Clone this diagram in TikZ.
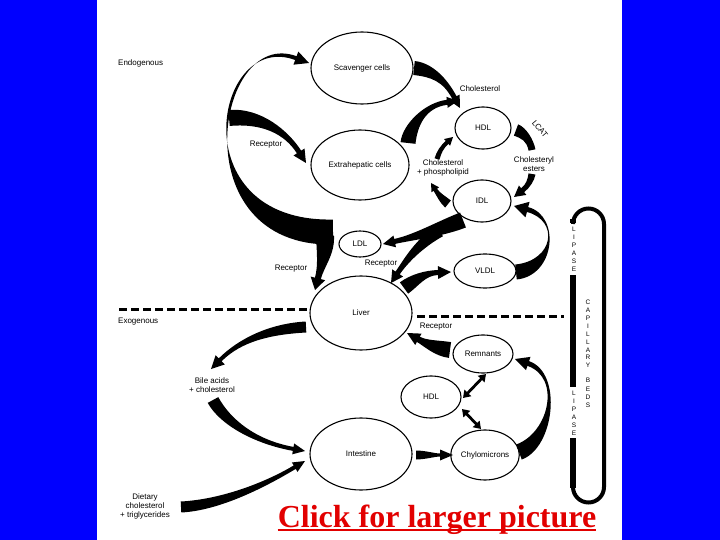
\documentclass[tikz,border=0pt]{standalone}
\usepackage{fontspec}
\setmainfont{Liberation Sans}
\newfontfamily\clickfont{Liberation Serif}
\usetikzlibrary{calc,arrows.meta,shapes.geometric}
\definecolor{bgblue}{RGB}{0,0,255}
\definecolor{clickred}{RGB}{226,0,0}
\tikzset{
 ell/.style={draw, ellipse, line width=1.1pt, inner sep=0pt, font=\fontsize{8}{9}\selectfont},
 lbl/.style={font=\fontsize{8}{8.6}\selectfont, align=center, inner sep=0pt},
 dashline/.style={line width=3pt, dash pattern=on 8pt off 4pt},
 dbl/.style={line width=2.8pt, {Triangle[length=7pt,width=9pt]}-{Triangle[length=7pt,width=9pt]}},
 vlet/.style={align=center, inner sep=0pt},
}
% tapered arrow: P0, C1, C2, tip, start width, end width, head width, head length
\newcommand\tarrow[8]{%
 \path ($(#4)!#8pt!(#3)$) coordinate (tB);
 \path ($(#1)!#5pt/2!90:(#2)$) coordinate (tL0)
       ($(#1)!#5pt/2!-90:(#2)$) coordinate (tR0)
       ($(tB)!#6pt/2!-90:(#3)$) coordinate (tL3)
       ($(tB)!#6pt/2!90:(#3)$) coordinate (tR3)
       ($(tB)!#7pt/2!-90:(#3)$) coordinate (tHL)
       ($(tB)!#7pt/2!90:(#3)$) coordinate (tHR);
 \fill (tL0) .. controls ($(#2)+(tL0)-(#1)$) and ($(#3)+(tL3)-(tB)$) .. (tL3)
   -- (tHL) -- (#4) -- (tHR) -- (tR3)
   .. controls ($(#3)+(tR3)-(tB)$) and ($(#2)+(tR0)-(#1)$) .. (tR0) -- cycle;
}
% tapered band without head: P0, C1, C2, P3, start width, end width
\newcommand\tband[6]{%
 \path ($(#1)!#5pt/2!90:(#2)$) coordinate (tL0)
       ($(#1)!#5pt/2!-90:(#2)$) coordinate (tR0)
       ($(#4)!#6pt/2!-90:(#3)$) coordinate (tL3)
       ($(#4)!#6pt/2!90:(#3)$) coordinate (tR3);
 \fill (tL0) .. controls ($(#2)+(tL0)-(#1)$) and ($(#3)+(tL3)-(#4)$) .. (tL3)
   -- (tR3) .. controls ($(#3)+(tR3)-(#4)$) and ($(#2)+(tR0)-(#1)$) .. (tR0) -- cycle;
}
\begin{document}
\begin{tikzpicture}[x=1pt,y=-1pt]
\useasboundingbox (0,0) rectangle (720,540);
\fill[bgblue] (0,0) rectangle (720,540);
\fill[white] (97,0) rectangle (622,540);

% compartments
\node[ell, minimum width=102pt, minimum height=72pt] (scav) at (362,68) {Scavenger cells};
\node[ell, minimum width=98pt, minimum height=70pt] (extra) at (360,165) {Extrahepatic cells};
\node[ell, minimum width=56pt, minimum height=42pt] (hdlA) at (483,128) {HDL};
\node[ell, minimum width=58pt, minimum height=42pt] (idl) at (482,201) {IDL};
\node[ell, minimum width=42pt, minimum height=26pt] (ldl) at (360,244) {LDL};
\node[ell, minimum width=62pt, minimum height=34pt] (vldl) at (485,271) {VLDL};
\node[ell, minimum width=102pt, minimum height=74pt] (liver) at (361,313) {Liver};
\node[ell, minimum width=60pt, minimum height=38pt] (rem) at (483,354) {Remnants};
\node[ell, minimum width=60pt, minimum height=42pt] (hdlB) at (431,397) {HDL};
\node[ell, minimum width=64pt, minimum height=50pt] (chylo) at (485,455) {Chylomicrons};
\node[ell, minimum width=102pt, minimum height=72pt] (intes) at (361,454) {Intestine};

% labels
\node[lbl, anchor=west] (endo) at (118,63) {Endogenous};
\node[lbl, anchor=west] (exo) at (118,322) {Exogenous};
\node[lbl] (rec1) at (266,145) {Receptor};
\node[lbl] (rec2) at (291,269) {Receptor};
\node[lbl] (rec3) at (381,264) {Receptor};
\node[lbl] (rec4) at (436,327) {Receptor};
\node[lbl] (chol) at (480,89) {Cholesterol};
\node[lbl, rotate=-50] (lcat) at (540,129) {LCAT};
\node[lbl] (ceste) at (534,164) {Cholesteryl\\esters};
\node[lbl, font=\fontsize{8}{9}\selectfont] (cpl) at (443,168) {Cholesterol\\+ phospholipid};
\node[lbl] (bile) at (212,385) {Bile acids\\+ cholesterol};
\node[lbl, font=\fontsize{8}{9}\selectfont] (diet) at (145,506) {Dietary\\cholesterol\\+ triglycerides};

% dashed divider
\draw[dashline] (119,309) -- (liver.west |- 0,309);
\draw[dashline] (417,316) -- (564,316);

% capillary beds loop
\draw[line width=4pt] (573,224) arc[start angle=180,end angle=360,radius=15.5] -- (604,487)
  arc[start angle=0,end angle=180,radius=15.5];
\draw[line width=6pt] (573,219) -- (573,223);
\draw[line width=6pt] (573,275) -- (573,387);
\draw[line width=6pt] (573,438) -- (573,487.5);
\node[vlet, font=\fontsize{6.5}{8}\selectfont] (lip1) at (574,249) {L\\I\\P\\A\\S\\E};
\node[vlet, font=\fontsize{6.5}{7.9}\selectfont] (capil) at (588,334) {C\\A\\P\\I\\L\\L\\A\\R\\Y};
\node[vlet, font=\fontsize{6.5}{8.3}\selectfont] (beds) at (588,393) {B\\E\\D\\S};
\node[vlet, font=\fontsize{6.5}{8}\selectfont] (lip2) at (574,413) {L\\I\\P\\A\\S\\E};

% LDL -> scavenger / extrahepatic / liver
\tarrow{333,232}{180,235}{215,28}{309,63}{25}{4}{14}{14}
\tarrow{229,118}{262,115}{287,133}{306,163}{16}{5}{13}{13}
\tarrow{325,236}{326,255}{321,266}{315,290}{18}{6}{15}{12}
% IDL -> LDL, IDL -> liver
\tarrow{463,220}{440,229}{415,237}{383,244}{16}{5}{12}{12}
\tarrow{440,231}{420,242}{405,262}{391,283}{12}{5}{13}{12}
% liver -> VLDL
\tarrow{404,288}{415,280}{425,273}{451,272}{14}{5}{13}{13}
% VLDL -> IDL
\tarrow{516,272}{555,268}{560,218}{514,206}{15}{5}{16}{14}
% HDL -> LCAT -> IDL
\tband{516,130}{524,133}{530,140}{532,150}{12}{7}
\tarrow{532,174}{531,180}{528,186}{514,197}{7}{5}{12}{11}
% scavenger -> HDL, extrahepatic -> HDL
\tarrow{414,68}{432,70}{445,80}{460,108}{14}{5}{12}{12}
\tarrow{408,143}{410,125}{425,105}{458,101}{15}{5}{11}{11}
% IDL -> cholesterol + phospholipid -> HDL
\tarrow{448,204}{443,200}{438,194}{431,183}{9}{4}{9}{8}
\tarrow{437,159}{439,152}{442,147}{453,137}{5}{4}{9}{8}
% liver -> bile acids -> intestine
\tarrow{306,327}{270,329}{240,340}{211,369}{11}{4}{13}{13}
\tarrow{213,400}{225,422}{255,442}{305,451}{12}{4}{11}{12}
% dietary -> intestine
\tarrow{181,507}{220,505}{265,485}{305,461}{11}{4}{11}{12}
% intestine -> chylomicrons
\tarrow{416,455}{425,455}{435,455}{453,455}{9}{3}{11}{13}
% chylomicrons -> remnants
\tarrow{519,452}{552,440}{562,375}{515,359}{16}{5}{14}{14}
% remnants -> liver
\tarrow{450,350}{435,348}{425,343}{407,333}{16}{6}{13}{13}
% HDL <-> remnants, HDL <-> chylomicrons
\draw[dbl] (463,398) -- (486,374);
\draw[dbl] (462,409) -- (481,429);

% link text
\node[font=\clickfont\bfseries\fontsize{32}{36}\selectfont, text=clickred, inner sep=0pt, anchor=base] (click) at (437,527) {Click for larger picture};
\draw[clickred, line width=2pt] ([yshift=-2.5pt]click.base west) -- ([yshift=-2.5pt]click.base east);
\end{tikzpicture}
\end{document}
